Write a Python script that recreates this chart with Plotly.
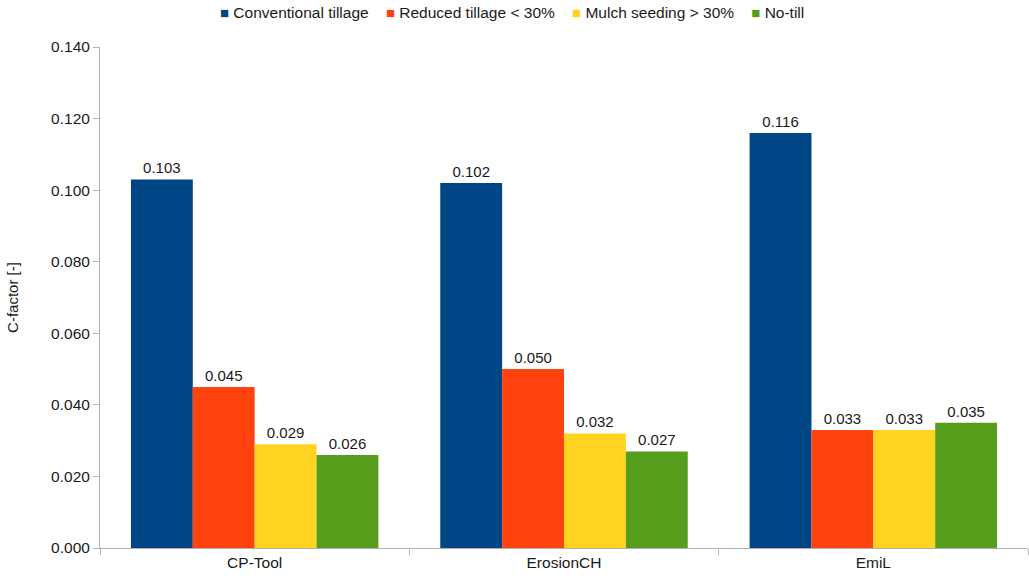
import plotly.graph_objects as go

# C-factor per tillage practice, estimated by three models
models = ["CP-Tool", "ErosionCH", "EmiL"]
conventional = [0.103, 0.102, 0.116]
reduced = [0.045, 0.050, 0.033]
mulch = [0.029, 0.032, 0.033]
no_till = [0.026, 0.027, 0.035]

series = [
    ("Conventional tillage", conventional, "#004586"),
    ("Reduced tillage < 30%", reduced, "#ff420e"),
    ("Mulch seeding > 30%", mulch, "#ffd320"),
    ("No-till", no_till, "#579d1c"),
]

FONT = 15.5

fig = go.Figure()
for name, vals, color in series:
    fig.add_trace(go.Bar(
        x=models, y=vals, name=name,
        marker=dict(color=color, line=dict(width=0)),
        text=[f"{v:.3f}" for v in vals],
        textposition="outside",
        textfont=dict(size=15, color="#1a1a1a"),
        cliponaxis=False,
    ))

# Compact legend line: coloured square glyph followed by the series name
legend_html = "&nbsp;&nbsp;&nbsp;&nbsp;".join(
    f"<span style='color:{color};font-size:15px'>■</span>&nbsp;{name.replace('<', '&lt;')}"
    for name, _, color in series
)

fig.update_layout(
    width=1029, height=579,
    barmode="group", bargap=0.2, bargroupgap=0,
    paper_bgcolor="white", plot_bgcolor="white",
    font=dict(family="Liberation Sans, Arial, sans-serif", size=FONT, color="#1a1a1a"),
    margin=dict(l=100, r=1, t=47, b=31),
    showlegend=False,
    annotations=[dict(
        text=legend_html, xref="paper", yref="paper",
        x=(512 - 100) / 928, y=1.0, yshift=35, xanchor="center", yanchor="middle",
        showarrow=False, font=dict(size=FONT, color="#1a1a1a"),
    )],
)
fig.update_xaxes(
    showline=True, linecolor="#b3b3b3", linewidth=1,
    ticks="outside", ticklen=6, tickcolor="#b3b3b3", tickson="boundaries",
    showgrid=False, tickfont=dict(size=FONT),
)
fig.update_yaxes(
    range=[0, 0.14], dtick=0.02, tickformat=".3f",
    showline=True, linecolor="#b3b3b3", linewidth=1,
    ticks="outside", ticklen=6, tickcolor="#b3b3b3",
    showgrid=False, zeroline=False, tickfont=dict(size=FONT),
    title=dict(text="C-factor [-]", font=dict(size=FONT - 0.5), standoff=28),
)

fig.write_html("out.html")
